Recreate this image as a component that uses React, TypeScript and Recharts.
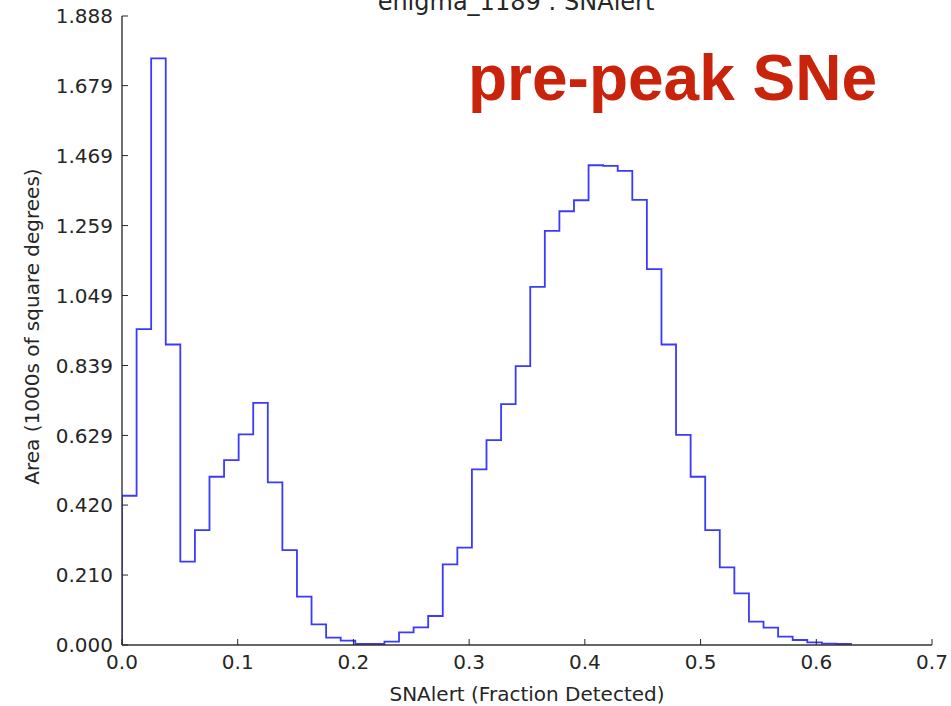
import { LineChart, Line, XAxis, YAxis } from "recharts";

// histogram of detected fraction, 50 equal bins starting at 0
const BIN_START = 0;
const BIN_WIDTH = 0.0126;
const AREA = [
  0.448, 0.948, 1.761, 0.902, 0.25, 0.345, 0.505, 0.555, 0.632, 0.727,
  0.488, 0.285, 0.145, 0.062, 0.022, 0.013, 0.003, 0.003, 0.01, 0.038,
  0.053, 0.087, 0.242, 0.292, 0.527, 0.615, 0.723, 0.837, 1.075, 1.243,
  1.302, 1.335, 1.44, 1.438, 1.423, 1.336, 1.128, 0.902, 0.631, 0.505,
  0.345, 0.233, 0.155, 0.07, 0.052, 0.025, 0.015, 0.008, 0.004, 0.003,
];

const X_TICKS = [0, 0.1, 0.2, 0.3, 0.4, 0.5, 0.6, 0.7];
const Y_TICKS = [0, 0.21, 0.42, 0.629, 0.839, 1.049, 1.259, 1.469, 1.679, 1.888];
const X_DOMAIN = [0, 0.7];
const Y_DOMAIN = [0, 1.888];

const TITLE = "enigma_1189 : SNAlert";
const X_LABEL = "SNAlert (Fraction Detected)";
const Y_LABEL = "Area (1000s of square degrees)";
const NOTE = "pre-peak SNe";

const FONT = "DejaVu Sans";
const INK = "#262626";
const TICK_LEN = 6;

// step outline: rise from zero at the first edge, fall back at the last
function buildSteps() {
  const pts = [{ x: BIN_START, y: 0 }];
  AREA.forEach((v, i) => pts.push({ x: BIN_START + i * BIN_WIDTH, y: v }));
  const end = BIN_START + AREA.length * BIN_WIDTH;
  pts.push({ x: end, y: AREA[AREA.length - 1] });
  pts.push({ x: end, y: 0 });
  return pts;
}

function LeftTick(p: any) {
  const { x, y, payload } = p;
  return (
    <g>
      <line x1={x + 9} x2={x + 9 + TICK_LEN} y1={y} y2={y} stroke={INK} strokeWidth={1} />
      <text x={x} y={y} dy="0.36em" textAnchor="end" fontFamily={FONT} fontSize={20} fill={INK}>
        {Number(payload.value).toFixed(3)}
      </text>
    </g>
  );
}

function BottomTick(p: any) {
  const { x, y, payload } = p;
  return (
    <g>
      <line x1={x} x2={x} y1={y - 10} y2={y - 10 - TICK_LEN} stroke={INK} strokeWidth={1} />
      <text x={x} y={y} dy="0.71em" textAnchor="middle" fontFamily={FONT} fontSize={20} fill={INK}>
        {Number(payload.value).toFixed(1)}
      </text>
    </g>
  );
}

function RightTick(p: any) {
  const { x, y } = p;
  return <line x1={x} x2={x - TICK_LEN} y1={y} y2={y} stroke={INK} strokeWidth={1} />;
}

function TopTick(p: any) {
  const { x, y } = p;
  return <line x1={x} x2={x} y1={y} y2={y + TICK_LEN} stroke={INK} strokeWidth={1} />;
}

function YTitle(p: any) {
  const vb = p.viewBox;
  const cx = vb.x + 32;
  const cy = vb.y + vb.height / 2 - 4;
  return (
    <text
      x={cx}
      y={cy}
      transform={`rotate(-90, ${cx}, ${cy})`}
      textAnchor="middle"
      dominantBaseline="central"
      fontFamily={FONT}
      fontSize={20}
      fill={INK}
    >
      {Y_LABEL}
    </text>
  );
}

function XTitle(p: any) {
  const vb = p.viewBox;
  return (
    <text x={vb.x + vb.width / 2} y={vb.y + 56} textAnchor="middle" fontFamily={FONT} fontSize={20} fill={INK}>
      {X_LABEL}
    </text>
  );
}

export default function App() {
  const steps = buildSteps();
  const axisLine = { stroke: "#333", strokeWidth: 1.4 };

  return (
    <div style={{ position: "absolute", left: 0, top: 0, width: 951, height: 706, background: "#fff" }}>
      <LineChart width={951} height={706} data={steps} margin={{ top: 16, right: 19, bottom: 0, left: 0 }}>
        <XAxis
          dataKey="x"
          type="number"
          domain={X_DOMAIN}
          ticks={X_TICKS}
          interval={0}
          height={61}
          tickSize={0}
          tickMargin={10}
          tickLine={false}
          axisLine={axisLine}
          tick={(p: any) => <BottomTick {...p} />}
          label={<XTitle />}
          allowDataOverflow
        />
        <XAxis
          xAxisId="top"
          orientation="top"
          dataKey="x"
          type="number"
          domain={X_DOMAIN}
          ticks={X_TICKS}
          interval={0}
          height={0}
          tickSize={0}
          tickMargin={0}
          tickLine={false}
          axisLine={axisLine}
          tick={(p: any) => <TopTick {...p} />}
          allowDataOverflow
        />
        <YAxis
          type="number"
          domain={Y_DOMAIN}
          ticks={Y_TICKS}
          interval={0}
          width={122}
          tickSize={0}
          tickMargin={9}
          tickLine={false}
          axisLine={axisLine}
          tick={(p: any) => <LeftTick {...p} />}
          label={<YTitle />}
          allowDataOverflow
        />
        <YAxis
          yAxisId="right"
          orientation="right"
          type="number"
          domain={Y_DOMAIN}
          ticks={Y_TICKS}
          interval={0}
          width={0}
          tickSize={0}
          tickMargin={0}
          tickLine={false}
          axisLine={axisLine}
          tick={(p: any) => <RightTick {...p} />}
          allowDataOverflow
        />
        <Line
          type="stepAfter"
          dataKey="y"
          stroke="#3a3aff"
          strokeWidth={1.8}
          dot={false}
          activeDot={false}
          isAnimationActive={false}
        />
      </LineChart>
      <svg width={951} height={706} style={{ position: "absolute", left: 0, top: 0, pointerEvents: "none" }}>
        <text x={516} y={10} textAnchor="middle" fontFamily={FONT} fontSize={24} fill={INK}>
          {TITLE}
        </text>
        <text x={468} y={100} fontFamily="Liberation Sans" fontWeight="bold" fontSize={64} fill="#c9230b">
          {NOTE}
        </text>
      </svg>
    </div>
  );
}
